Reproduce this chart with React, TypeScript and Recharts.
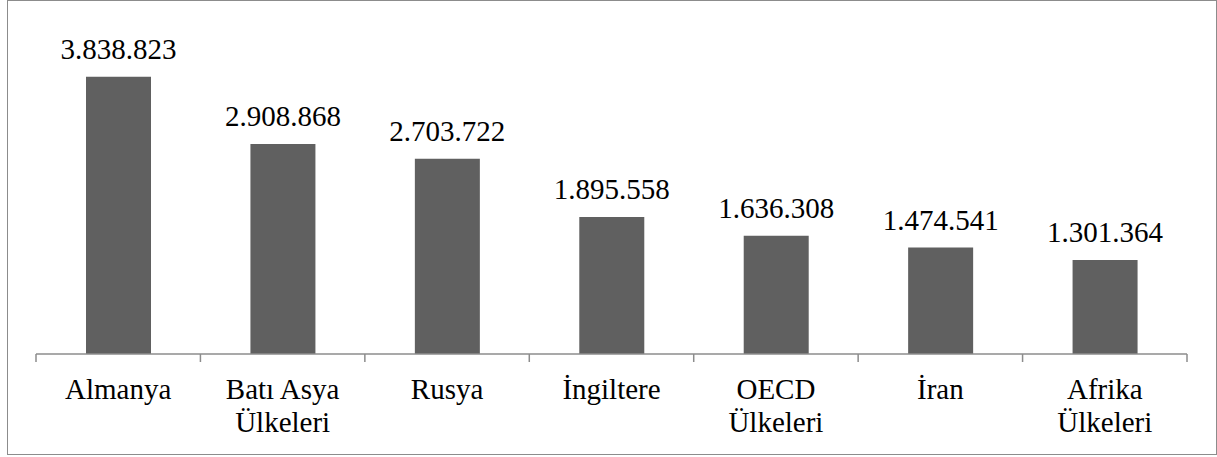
import { BarChart, Bar, XAxis, YAxis, LabelList } from 'recharts'

const categories = ['Almanya', 'Batı Asya\nÜlkeleri', 'Rusya', 'İngiltere', 'OECD\nÜlkeleri', 'İran', 'Afrika\nÜlkeleri']
const values = [3838823, 2908868, 2703722, 1895558, 1636308, 1474541, 1301364]

const data = categories.map((name, i) => ({ name, value: values[i] }))

const W = 1210
const H = 455
const margin = { top: 29, right: 30, bottom: 11, left: 29 }
const plotW = W - margin.left - margin.right
const band = plotW / categories.length
const FONT = "'Liberation Serif', 'Times New Roman', serif"

const fmt = (v: number) => String(v).replace(/\B(?=(\d{3})+(?!\d))/g, '.')

function CategoryTick(props: any) {
  const { x, y, payload, index } = props
  const lines = String(payload.value).split('\n')
  const left = x - band / 2
  const right = x + band / 2
  return (
    <g>
      <line x1={left} x2={left} y1={y} y2={y + 8} stroke="#8c8c8c" strokeWidth={1.5} />
      {index === categories.length - 1 && (
        <line x1={right} x2={right} y1={y} y2={y + 8} stroke="#8c8c8c" strokeWidth={1.5} />
      )}
      <text textAnchor="middle" fontFamily={FONT} fontSize={29} fill="#000">
        {lines.map((l, i) => (
          <tspan key={i} x={x} y={y + 45 + i * 33}>{l}</tspan>
        ))}
      </text>
    </g>
  )
}

export default function App() {
  return (
    <div style={{ position: 'absolute', left: 7, top: 0, width: W, height: H, background: '#fff' }}>
      <BarChart width={W} height={H} data={data} margin={margin}>
        <YAxis hide domain={[0, 4500000]} />
        <XAxis
          dataKey="name"
          interval={0}
          height={90}
          tickSize={0}
          tickMargin={0}
          tickLine={false}
          axisLine={{ stroke: '#8c8c8c', strokeWidth: 1.5 }}
          tick={<CategoryTick />}
        />
        <Bar dataKey="value" fill="#606060" barSize={65} isAnimationActive={false}>
          <LabelList dataKey="value" position="top" offset={18} formatter={(v: any) => fmt(Number(v))}
            style={{ fontFamily: FONT, fontSize: 29, fill: '#000' }} />
        </Bar>
      </BarChart>
      <div style={{ position: 'absolute', left: 0, top: 0, width: W, height: H, border: '1.5px solid #8c8c8c', boxSizing: 'border-box', pointerEvents: 'none' }} />
    </div>
  )
}
